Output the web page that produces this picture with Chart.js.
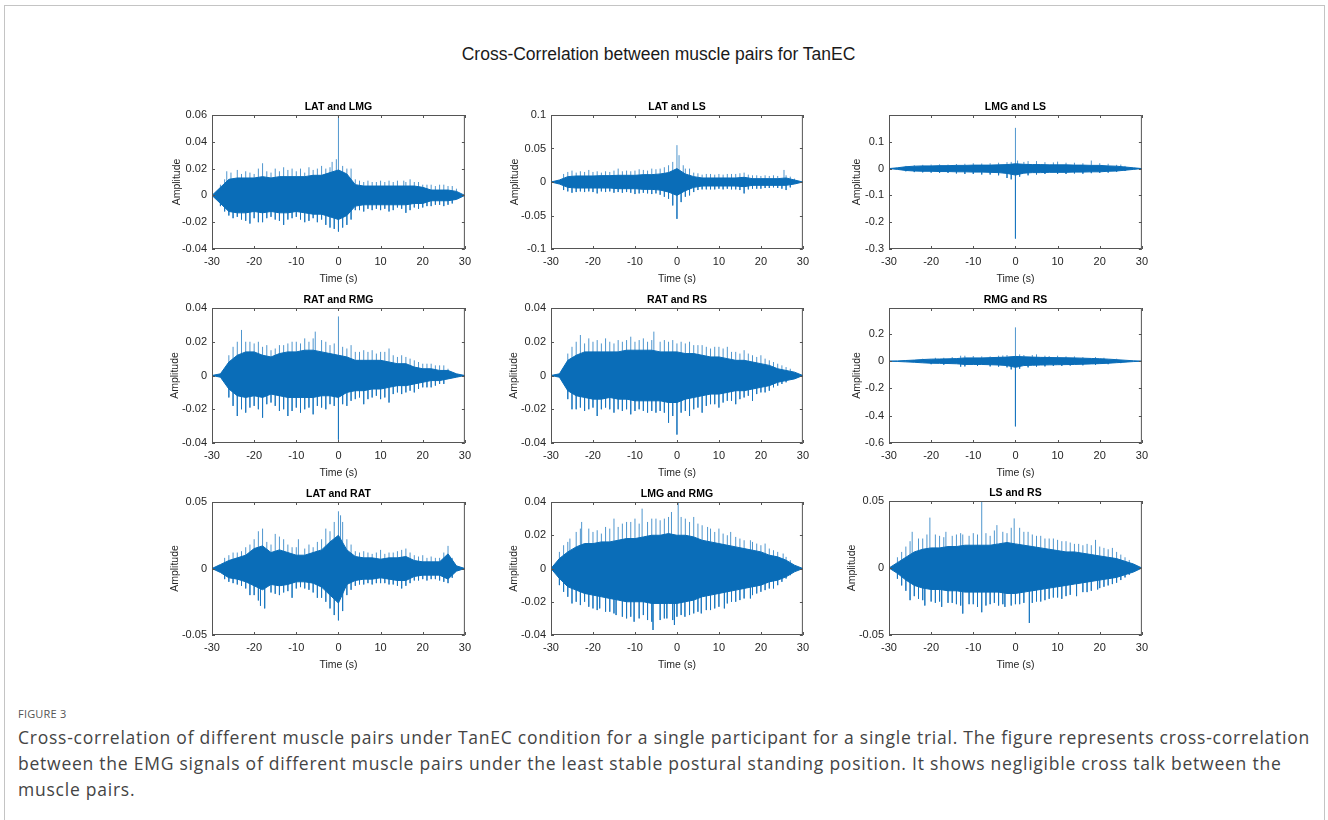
<!DOCTYPE html>
<html>
<head>
<meta charset="utf-8">
<script src="https://cdn.jsdelivr.net/npm/chart.js@4.4.1/dist/chart.umd.min.js"></script>
<style>
  html, body { margin: 0; padding: 0; background: #fff; }
  body { width: 1328px; height: 820px; position: relative; overflow: hidden; font-family: "Liberation Sans", Arial, sans-serif; }
  #border { position: absolute; left: 4px; top: 5px; width: 1319px; height: 900px; border: 1px solid #c4c4c4; }
  #maintitle { position: absolute; left: 0; width: 1317px; top: 43px; height: 22px; line-height: 22px; text-align: center; font-size: 17.5px; color: #1a1a1a; }
  canvas { position: absolute; }
  #figlabel { position: absolute; left: 18px; top: 706px; font-family: "Open Sans", sans-serif; font-size: 11px; color: #555; letter-spacing: 0.2px; }
  #caption { position: absolute; left: 18px; top: 724px; font-family: "Open Sans", sans-serif; font-size: 17.5px; line-height: 26px; color: #444; white-space: nowrap; }
  #caption .ln { display: block; }
  #caption .ln span { display: inline-block; }
</style>
</head>
<body>
<div id="border"></div>
<div id="maintitle">Cross-Correlation between muscle pairs for TanEC</div>
<canvas id="c1"></canvas><canvas id="c2"></canvas><canvas id="c3"></canvas>
<canvas id="c4"></canvas><canvas id="c5"></canvas><canvas id="c6"></canvas>
<canvas id="c7"></canvas><canvas id="c8"></canvas><canvas id="c9"></canvas>
<div id="figlabel">FIGURE 3</div>
<div id="caption">
  <div class="ln"><span id="firstline">Cross-correlation of different muscle pairs under TanEC condition for a single participant for a single trial. The figure represents cross-correlation</span></div>
  <div class="ln">between the EMG signals of different muscle pairs under the least stable postural standing position. It shows negligible cross talk between the</div>
  <div class="ln">muscle pairs.</div>
</div>
<script>
// lag times (s) at which the envelope of each cross-correlation was read
var lagTimes = [-30,-28,-26,-24,-22,-20,-18,-16,-14,-12,-10,-8,-6,-4,-2,0,2,4,6,8,10,12,14,16,18,20,22,24,26,28,30];
var timeTicks = [-30,-20,-10,0,10,20,30];

// LAT and LMG
var latLmgUp = [0,0.006,0.012,0.013,0.013,0.013,0.014,0.013,0.014,0.014,0.014,0.014,0.015,0.015,0.017,0.019,0.016,0.008,0.007,0.007,0.007,0.007,0.007,0.007,0.007,0.006,0.004,0.004,0.004,0.003,0];
var latLmgLow = [0,-0.006,-0.012,-0.013,-0.013,-0.012,-0.013,-0.012,-0.013,-0.013,-0.012,-0.013,-0.014,-0.014,-0.016,-0.018,-0.015,-0.008,-0.007,-0.007,-0.007,-0.007,-0.007,-0.007,-0.006,-0.006,-0.004,-0.004,-0.004,-0.003,0];
var latLmgSpikes = [[-28,0.008],[-27,0.012],[-26.5,0.018],[-25.5,0.017],[-24,0.019],[-23,0.016],[-22,0.018],[-21,0.017],[-20,0.016],[-19,0.02],[-18,0.024],[-17,0.018],[-16,0.017],[-15,0.02],[-14,0.018],[-13,0.021],[-12,0.019],[-11,0.02],[-10,0.018],[-9,0.02],[-8,0.017],[-7,0.021],[-6,0.019],[-5,0.02],[-4,0.022],[-3,0.02],[-2,0.021],[-1.5,0.025],[-0.5,0.027],[0,0.06],[1,0.022],[2,0.02],[3,0.02],[4,0.012],[5,0.011],[6,0.01],[7,0.011],[8,0.01],[9,0.01],[10,0.011],[11,0.01],[12,0.011],[13,0.01],[14,0.011],[15.5,0.011],[16,0.01],[17,0.012],[18,0.01],[19,0.01],[20,0.008],[21,0.008],[22,0.008],[23,0.007],[24,0.008],[25,0.008],[26,0.007],[27,0.007],[28,0.005],
  [-28,-0.008],[-27,-0.012],[-26,-0.015],[-25,-0.017],[-24,-0.016],[-23,-0.018],[-22,-0.019],[-21,-0.021],[-20,-0.017],[-19,-0.02],[-18,-0.02],[-17,-0.017],[-16,-0.016],[-15,-0.018],[-14,-0.019],[-13,-0.022],[-12,-0.018],[-11,-0.017],[-10,-0.016],[-9,-0.018],[-8,-0.02],[-7,-0.019],[-6,-0.017],[-5,-0.02],[-4,-0.018],[-3,-0.022],[-2,-0.024],[-1,-0.025],[0,-0.027],[1,-0.024],[2,-0.022],[3,-0.018],[4,-0.011],[5,-0.011],[6,-0.012],[7,-0.01],[8,-0.011],[9,-0.01],[10,-0.011],[11,-0.01],[12,-0.012],[13,-0.011],[14,-0.009],[15,-0.01],[16,-0.013],[17,-0.011],[18,-0.009],[19,-0.01],[20,-0.009],[21,-0.008],[22,-0.008],[23,-0.007],[24,-0.007],[25,-0.008],[26,-0.007],[27,-0.006]];
var latLmgTicks = [-0.04,-0.02,0,0.02,0.04,0.06];

// LAT and LS
var latLsUp = [0,0.003,0.008,0.009,0.009,0.009,0.0095,0.0095,0.01,0.01,0.01,0.011,0.011,0.012,0.014,0.02,0.012,0.008,0.006,0.006,0.006,0.006,0.006,0.007,0.005,0.005,0.005,0.005,0.006,0.003,0];
var latLsLow = [0,-0.003,-0.008,-0.009,-0.009,-0.009,-0.009,-0.009,-0.01,-0.01,-0.01,-0.011,-0.011,-0.012,-0.015,-0.02,-0.013,-0.008,-0.006,-0.006,-0.006,-0.006,-0.006,-0.007,-0.005,-0.005,-0.005,-0.005,-0.005,-0.003,0];
var latLsSpikes = [[-27,0.012],[-26,0.015],[-25,0.017],[-24,0.014],[-23,0.016],[-22,0.015],[-21,0.018],[-20,0.015],[-19,0.016],[-18,0.014],[-17,0.016],[-16,0.015],[-15,0.017],[-14,0.02],[-13,0.016],[-12,0.017],[-11,0.016],[-10,0.017],[-9,0.019],[-8,0.018],[-7,0.017],[-6,0.02],[-5,0.019],[-4,0.02],[-3,0.022],[-2,0.025],[-1,0.03],[0,0.055],[0.5,0.04],[1.5,0.025],[2,0.02],[3,0.02],[4,0.014],[5,0.013],[6,0.011],[7,0.012],[8,0.012],[9,0.011],[10,0.012],[11,0.011],[12,0.012],[13,0.012],[14,0.012],[15,0.013],[16,0.014],[17,0.011],[18,0.01],[19,0.01],[20,0.009],[21,0.01],[22,0.009],[23,0.01],[24,0.009],[25.5,0.018],[26,0.01],[27,0.008],[28,0.005],
  [-27,-0.012],[-26,-0.014],[-25,-0.016],[-24,-0.015],[-23,-0.014],[-22,-0.015],[-21,-0.014],[-20,-0.015],[-19,-0.017],[-18,-0.014],[-17,-0.015],[-16,-0.014],[-15,-0.016],[-14,-0.015],[-13,-0.016],[-12,-0.015],[-11,-0.016],[-10,-0.018],[-9,-0.017],[-8,-0.016],[-7,-0.017],[-6,-0.018],[-5,-0.017],[-4,-0.019],[-3,-0.022],[-2,-0.025],[-1,-0.035],[0,-0.055],[1,-0.03],[2,-0.022],[3,-0.02],[4,-0.015],[5,-0.012],[6,-0.011],[7,-0.011],[8,-0.011],[9,-0.011],[10,-0.01],[11,-0.011],[12,-0.01],[13,-0.011],[14,-0.011],[15,-0.012],[16,-0.017],[17,-0.011],[18,-0.01],[19,-0.01],[20,-0.01],[21,-0.009],[22,-0.009],[23,-0.008],[24,-0.009],[25,-0.01],[26,-0.012],[27,-0.008]];
var latLsTicks = [-0.1,-0.05,0,0.05,0.1];

// LMG and LS
var lmgLsUp = [0,0.003,0.007,0.009,0.01,0.01,0.011,0.011,0.012,0.012,0.013,0.013,0.013,0.014,0.015,0.018,0.016,0.015,0.015,0.014,0.014,0.014,0.013,0.013,0.012,0.012,0.01,0.009,0.006,0.003,0];
var lmgLsLow = [0,-0.003,-0.007,-0.009,-0.01,-0.01,-0.011,-0.011,-0.012,-0.012,-0.013,-0.013,-0.014,-0.015,-0.018,-0.024,-0.017,-0.015,-0.015,-0.014,-0.014,-0.014,-0.013,-0.013,-0.012,-0.012,-0.01,-0.009,-0.006,-0.003,0];
var lmgLsSpikes = [[-26,0.01],[-24,0.013],[-22,0.014],[-20,0.015],[-18,0.016],[-16,0.015],[-14,0.017],[-12,0.018],[-10,0.02],[-8,0.019],[-6,0.02],[-4,0.022],[-2,0.024],[-1,0.025],[0,0.152],[0.5,0.03],[2,0.025],[3,0.028],[5,0.028],[7,0.024],[9,0.023],[10,0.026],[12,0.022],[14,0.022],[16,0.02],[18,0.03],[20,0.02],[22,0.018],[24,0.014],[25,0.015],[26,0.01],
  [-26,-0.01],[-24,-0.013],[-22,-0.014],[-20,-0.015],[-18,-0.016],[-16,-0.016],[-14,-0.018],[-12,-0.02],[-10,-0.02],[-8,-0.022],[-6,-0.022],[-4,-0.025],[-2,-0.035],[-1,-0.04],[0,-0.261],[1,-0.03],[3,-0.025],[5,-0.022],[7,-0.02],[10,-0.02],[12,-0.02],[14,-0.018],[16,-0.019],[18,-0.017],[20,-0.016],[22,-0.015],[24,-0.012],[26,-0.009]];
var lmgLsTicks = [-0.3,-0.2,-0.1,0,0.1];

// RAT and RMG
var ratRmgUp = [0,0.001,0.008,0.012,0.014,0.014,0.012,0.011,0.013,0.014,0.014,0.015,0.015,0.014,0.013,0.012,0.011,0.009,0.009,0.009,0.009,0.008,0.007,0.007,0.005,0.004,0.004,0.003,0.003,0.001,0];
var ratRmgLow = [0,-0.001,-0.008,-0.012,-0.013,-0.012,-0.013,-0.011,-0.012,-0.013,-0.013,-0.013,-0.013,-0.012,-0.012,-0.013,-0.01,-0.009,-0.009,-0.008,-0.008,-0.007,-0.006,-0.006,-0.005,-0.004,-0.003,-0.003,-0.002,-0.001,0];
var ratRmgSpikes = [[-26,0.012],[-25,0.017],[-24,0.02],[-23,0.027],[-22,0.02],[-21,0.02],[-20,0.019],[-19,0.02],[-18,0.017],[-17,0.018],[-16,0.015],[-15,0.016],[-14,0.018],[-13,0.018],[-12,0.019],[-11,0.02],[-10,0.02],[-9,0.019],[-8,0.022],[-7,0.02],[-6,0.022],[-5.5,0.026],[-4,0.021],[-3,0.02],[-2,0.018],[-1,0.019],[0,0.035],[1,0.017],[2,0.016],[3,0.018],[4,0.014],[5,0.014],[6,0.015],[7,0.014],[8,0.015],[9,0.013],[10,0.014],[11,0.014],[12,0.016],[13,0.012],[14,0.011],[15,0.012],[16,0.011],[17,0.01],[18,0.009],[19,0.008],[20,0.007],[21,0.007],[22,0.007],[23,0.006],[24,0.006],[25,0.006],[26,0.004],
  [-26,-0.013],[-25,-0.018],[-24,-0.024],[-23,-0.02],[-22,-0.022],[-21,-0.019],[-20,-0.018],[-19,-0.02],[-18,-0.025],[-17,-0.017],[-16,-0.016],[-15,-0.018],[-14,-0.021],[-13,-0.02],[-12,-0.024],[-11,-0.021],[-10,-0.019],[-9,-0.022],[-8,-0.02],[-7,-0.019],[-6,-0.023],[-5,-0.018],[-4,-0.019],[-3,-0.02],[-2,-0.017],[-1,-0.018],[0,-0.038],[1,-0.017],[2,-0.018],[3,-0.015],[4,-0.014],[5,-0.013],[6,-0.017],[7,-0.014],[8,-0.013],[9,-0.012],[10,-0.014],[11,-0.013],[12,-0.016],[13,-0.011],[14,-0.01],[15,-0.011],[16,-0.01],[17,-0.009],[18,-0.01],[19,-0.008],[20,-0.007],[21,-0.007],[22,-0.007],[23,-0.006],[24,-0.005],[25,-0.005]];
var ratRmgTicks = [-0.04,-0.02,0,0.02,0.04];

// RAT and RS
var ratRsUp = [0,0.001,0.009,0.012,0.014,0.014,0.014,0.014,0.014,0.015,0.015,0.015,0.015,0.014,0.014,0.014,0.013,0.013,0.012,0.011,0.011,0.01,0.009,0.009,0.008,0.007,0.006,0.004,0.003,0.002,0];
var ratRsLow = [0,-0.001,-0.009,-0.012,-0.013,-0.014,-0.014,-0.013,-0.014,-0.014,-0.015,-0.015,-0.015,-0.015,-0.016,-0.016,-0.014,-0.013,-0.012,-0.011,-0.011,-0.01,-0.009,-0.009,-0.008,-0.007,-0.006,-0.004,-0.003,-0.002,0];
var ratRsSpikes = [[-26,0.013],[-25,0.017],[-24,0.02],[-23,0.024],[-22,0.019],[-21,0.022],[-20,0.02],[-19,0.021],[-18,0.019],[-17,0.022],[-16,0.02],[-15,0.019],[-14,0.021],[-13,0.02],[-12,0.021],[-11,0.023],[-10,0.02],[-9,0.021],[-8,0.022],[-7,0.02],[-6,0.021],[-5.5,0.026],[-4,0.02],[-3,0.021],[-2,0.02],[-1,0.021],[0,0.019],[1,0.02],[2,0.019],[3,0.02],[4,0.018],[5,0.018],[6,0.018],[7,0.017],[8,0.016],[9,0.017],[10,0.017],[11,0.016],[12,0.017],[13,0.014],[14,0.014],[15,0.013],[16,0.015],[17,0.013],[18,0.012],[19,0.011],[20,0.012],[21,0.01],[22,0.009],[23,0.008],[24,0.007],[25,0.006],[26,0.005],[27,0.004],
  [-26,-0.014],[-25,-0.02],[-24,-0.02],[-23,-0.019],[-22,-0.021],[-21,-0.02],[-20,-0.019],[-19,-0.024],[-18,-0.02],[-17,-0.019],[-16,-0.02],[-15,-0.022],[-14,-0.02],[-13,-0.021],[-12,-0.02],[-11,-0.023],[-10,-0.021],[-9,-0.02],[-8,-0.021],[-7,-0.022],[-6,-0.021],[-5,-0.022],[-4,-0.021],[-3,-0.022],[-2,-0.028],[-1,-0.024],[0,-0.035],[1,-0.022],[2,-0.021],[3,-0.024],[4,-0.02],[5,-0.019],[6,-0.022],[7,-0.018],[8,-0.017],[9,-0.017],[10,-0.019],[11,-0.016],[12,-0.015],[13,-0.015],[14,-0.017],[15,-0.014],[16,-0.013],[17,-0.012],[18,-0.015],[19,-0.011],[20,-0.01],[21,-0.01],[22,-0.009],[23,-0.007],[24,-0.006],[25,-0.005],[26,-0.004]];
var ratRsTicks = [-0.04,-0.02,0,0.02,0.04];

// RMG and RS
var rmgRsUp = [0,0.002,0.005,0.008,0.012,0.015,0.016,0.017,0.019,0.024,0.024,0.024,0.026,0.028,0.03,0.035,0.032,0.03,0.028,0.027,0.026,0.025,0.024,0.022,0.02,0.018,0.015,0.011,0.007,0.003,0];
var rmgRsLow = [0,-0.002,-0.005,-0.008,-0.012,-0.015,-0.016,-0.017,-0.019,-0.024,-0.024,-0.024,-0.026,-0.028,-0.032,-0.045,-0.032,-0.03,-0.028,-0.027,-0.026,-0.025,-0.024,-0.022,-0.02,-0.018,-0.015,-0.011,-0.007,-0.003,0];
var rmgRsSpikes = [[-22,0.018],[-19,0.025],[-17,0.025],[-15,0.03],[-13,0.04],[-12,0.04],[-10,0.038],[-8,0.035],[-6,0.035],[-4,0.04],[-3,0.042],[-2,0.045],[0,0.248],[1,0.05],[2,0.045],[4,0.045],[5,0.05],[7,0.04],[8,0.038],[10,0.04],[12,0.035],[14,0.035],[16,0.03],[19,0.03],[21,0.025],[24,0.018],
  [-20,-0.022],[-17,-0.026],[-13,-0.04],[-12,-0.038],[-9,-0.035],[-6,-0.038],[-4,-0.04],[-2,-0.045],[-1,-0.06],[0,-0.478],[1,-0.055],[3,-0.045],[5,-0.04],[7,-0.038],[9,-0.035],[11,-0.035],[13,-0.032],[16,-0.03],[19,-0.027],[22,-0.022],[25,-0.014]];
var rmgRsTicks = [-0.6,-0.4,-0.2,0,0.2];

// LAT and RAT
var latRatUp = [0,0.003,0.006,0.008,0.01,0.015,0.017,0.012,0.014,0.012,0.01,0.01,0.012,0.014,0.02,0.025,0.014,0.009,0.008,0.008,0.007,0.008,0.008,0.009,0.006,0.005,0.005,0.005,0.011,0.002,0];
var latRatLow = [0,-0.003,-0.007,-0.008,-0.01,-0.013,-0.016,-0.012,-0.013,-0.012,-0.01,-0.01,-0.011,-0.014,-0.02,-0.026,-0.012,-0.009,-0.008,-0.008,-0.007,-0.008,-0.009,-0.009,-0.006,-0.005,-0.005,-0.005,-0.008,-0.002,0];
var latRatSpikes = [[-27,0.008],[-26,0.01],[-25,0.012],[-24,0.012],[-23,0.013],[-22,0.016],[-21,0.018],[-20,0.022],[-19,0.028],[-18,0.03],[-17,0.02],[-16,0.018],[-15,0.026],[-14,0.024],[-13,0.022],[-12,0.018],[-11,0.016],[-10,0.016],[-9.5,0.022],[-8,0.015],[-7,0.018],[-6,0.016],[-5,0.02],[-4,0.022],[-3,0.03],[-2,0.028],[-1,0.035],[0,0.043],[0.5,0.04],[1,0.035],[2,0.022],[3,0.018],[4,0.013],[5,0.012],[6,0.013],[7,0.012],[8,0.011],[9,0.012],[10,0.014],[11,0.011],[12,0.012],[13,0.012],[14,0.013],[15,0.014],[16,0.015],[17,0.012],[18,0.01],[19,0.009],[20,0.01],[21,0.008],[22,0.009],[23,0.008],[24,0.008],[25,0.012],[26,0.017],[27,0.008],
  [-27,-0.008],[-26,-0.01],[-25,-0.011],[-24,-0.012],[-23,-0.013],[-22,-0.015],[-21,-0.02],[-20,-0.02],[-19,-0.024],[-18.5,-0.028],[-17.5,-0.03],[-16,-0.018],[-15,-0.019],[-14,-0.02],[-13,-0.018],[-12,-0.017],[-11,-0.022],[-10,-0.015],[-9,-0.014],[-8,-0.015],[-7,-0.016],[-6,-0.018],[-5,-0.022],[-4,-0.022],[-3,-0.025],[-2,-0.03],[-1,-0.035],[0,-0.039],[1,-0.032],[2,-0.02],[3,-0.016],[4,-0.013],[5,-0.012],[6,-0.012],[7,-0.011],[8,-0.012],[9,-0.011],[10,-0.011],[11,-0.011],[12,-0.012],[13,-0.012],[14,-0.013],[15,-0.015],[16,-0.013],[17,-0.011],[18,-0.009],[19,-0.009],[20,-0.008],[21,-0.009],[22,-0.008],[23,-0.008],[24,-0.009],[25,-0.01],[26,-0.011],[27,-0.007]];
var latRatTicks = [-0.05,0,0.05];

// LMG and RMG
var lmgRmgUp = [0,0.006,0.01,0.013,0.015,0.015,0.016,0.016,0.017,0.018,0.018,0.019,0.02,0.02,0.021,0.02,0.02,0.019,0.017,0.016,0.015,0.014,0.013,0.012,0.011,0.01,0.008,0.007,0.005,0.002,0];
var lmgRmgLow = [0,-0.006,-0.011,-0.013,-0.015,-0.016,-0.017,-0.018,-0.019,-0.02,-0.02,-0.02,-0.021,-0.021,-0.021,-0.021,-0.02,-0.019,-0.017,-0.016,-0.015,-0.014,-0.013,-0.012,-0.011,-0.01,-0.008,-0.007,-0.005,-0.002,0];
var lmgRmgSpikes = [[-28,0.01],[-27,0.014],[-26,0.016],[-25.5,0.018],[-24,0.022],[-23,0.024],[-22.7,0.028],[-21,0.024],[-20,0.022],[-19,0.023],[-18,0.021],[-17,0.025],[-16,0.024],[-15,0.03],[-14,0.025],[-13,0.027],[-12,0.028],[-11,0.028],[-10,0.03],[-9,0.027],[-8.3,0.036],[-7,0.028],[-6,0.03],[-5,0.03],[-4,0.029],[-3,0.03],[-2,0.031],[-1.3,0.034],[0.3,0.04],[1,0.031],[2,0.03],[3,0.028],[4,0.031],[5,0.027],[6,0.026],[7.3,0.025],[8,0.024],[9,0.022],[10,0.024],[11,0.021],[12,0.02],[12.8,0.022],[14,0.019],[15,0.018],[16,0.017],[17.5,0.017],[18,0.016],[19,0.015],[20,0.014],[21,0.015],[22,0.012],[23,0.011],[24,0.01],[25.3,0.009],[26,0.007],[27,0.005],
  [-28,-0.01],[-27,-0.014],[-26,-0.017],[-25,-0.021],[-24,-0.02],[-23,-0.022],[-22,-0.02],[-21,-0.023],[-20,-0.024],[-19,-0.025],[-18.4,-0.024],[-17,-0.026],[-16,-0.026],[-15,-0.027],[-14.5,-0.028],[-13,-0.029],[-12,-0.03],[-11,-0.029],[-10.2,-0.032],[-9,-0.03],[-8,-0.028],[-7,-0.031],[-6,-0.032],[-5.7,-0.037],[-4,-0.031],[-3,-0.03],[-2.4,-0.03],[-1,-0.031],[-0.6,-0.034],[0,-0.029],[1,-0.028],[1.9,-0.029],[3,-0.028],[4,-0.027],[5,-0.026],[5.8,-0.027],[7,-0.025],[8,-0.025],[9,-0.024],[10,-0.023],[11.3,-0.024],[12,-0.021],[13,-0.02],[14,-0.02],[15,-0.019],[16,-0.018],[17.5,-0.018],[18,-0.016],[19,-0.015],[20,-0.014],[21,-0.013],[22,-0.012],[23,-0.012],[24,-0.01],[25,-0.008],[26,-0.006],[27,-0.004]];
var lmgRmgTicks = [-0.04,-0.02,0,0.02,0.04];

// LS and RS
var lsRsUp = [0,0.004,0.008,0.012,0.014,0.015,0.015,0.016,0.016,0.017,0.017,0.017,0.017,0.018,0.019,0.018,0.017,0.016,0.015,0.014,0.013,0.012,0.012,0.011,0.01,0.009,0.008,0.007,0.005,0.003,0];
var lsRsLow = [0,-0.004,-0.009,-0.013,-0.015,-0.016,-0.016,-0.017,-0.017,-0.018,-0.018,-0.018,-0.018,-0.018,-0.019,-0.019,-0.018,-0.017,-0.016,-0.015,-0.014,-0.013,-0.012,-0.011,-0.01,-0.009,-0.008,-0.007,-0.005,-0.003,0];
var lsRsSpikes = [[-28,0.008],[-27,0.012],[-26,0.016],[-25,0.02],[-24.5,0.027],[-23,0.022],[-22,0.022],[-21,0.025],[-20.3,0.0376],[-19,0.025],[-18,0.024],[-17,0.023],[-16.5,0.027],[-15,0.024],[-14,0.025],[-13,0.026],[-12.5,0.025],[-11,0.024],[-10,0.026],[-9,0.025],[-8,0.05],[-7,0.026],[-6,0.024],[-5,0.028],[-4.4,0.032],[-3,0.027],[-2,0.026],[-1,0.03],[-0.3,0.037],[1,0.03],[2,0.027],[3,0.027],[4,0.025],[5,0.024],[6,0.024],[7,0.022],[8,0.022],[9,0.022],[10,0.021],[11,0.02],[12,0.02],[13,0.019],[14,0.018],[15,0.018],[16,0.017],[17,0.018],[18,0.017],[19,0.021],[20,0.016],[21,0.015],[22,0.014],[23,0.015],[24,0.012],[25,0.01],[26,0.008],[27,0.006],
  [-28,-0.008],[-27,-0.013],[-26,-0.017],[-25,-0.024],[-24,-0.021],[-23,-0.023],[-22,-0.024],[-21.5,-0.028],[-20,-0.025],[-19,-0.026],[-18,-0.025],[-17.5,-0.029],[-16,-0.026],[-15,-0.026],[-14,-0.027],[-13,-0.028],[-12.5,-0.034],[-11,-0.027],[-10,-0.027],[-9,-0.029],[-8,-0.033],[-7,-0.028],[-6,-0.027],[-5,-0.026],[-4,-0.028],[-3,-0.027],[-2.5,-0.029],[-1,-0.028],[0,-0.027],[1,-0.027],[2,-0.026],[3.3,-0.041],[4,-0.026],[5,-0.025],[6,-0.025],[7,-0.024],[8,-0.023],[9,-0.022],[10,-0.022],[11,-0.023],[12,-0.021],[13,-0.02],[14.5,-0.021],[16,-0.018],[17,-0.018],[18,-0.017],[19.5,-0.016],[20,-0.015],[21,-0.014],[22,-0.013],[23,-0.012],[24,-0.011],[25,-0.009],[26,-0.007],[27,-0.005]];
var lsRsTicks = [-0.05,0,0.05];

// panel layout: plot box in page pixels, axis limits and ylabel offset
var panels = [
  {id: "c1", title: "LAT and LMG", up: latLmgUp, low: latLmgLow, spikes: latLmgSpikes, ticks: latLmgTicks, ymin: -0.04, ymax: 0.06, box: [212, 115, 257, 134], yl: 35},
  {id: "c2", title: "LAT and LS", up: latLsUp, low: latLsLow, spikes: latLsSpikes, ticks: latLsTicks, ymin: -0.1, ymax: 0.1, box: [551, 115, 256, 134], yl: 36},
  {id: "c3", title: "LMG and LS", up: lmgLsUp, low: lmgLsLow, spikes: lmgLsSpikes, ticks: lmgLsTicks, ymin: -0.3, ymax: 0.2, box: [889, 115, 257, 134], yl: 32},
  {id: "c4", title: "RAT and RMG", up: ratRmgUp, low: ratRmgLow, spikes: ratRmgSpikes, ticks: ratRmgTicks, ymin: -0.04, ymax: 0.04, box: [212, 308, 257, 135], yl: 37},
  {id: "c5", title: "RAT and RS", up: ratRsUp, low: ratRsLow, spikes: ratRsSpikes, ticks: ratRsTicks, ymin: -0.04, ymax: 0.04, box: [551, 308, 256, 135], yl: 37},
  {id: "c6", title: "RMG and RS", up: rmgRsUp, low: rmgRsLow, spikes: rmgRsSpikes, ticks: rmgRsTicks, ymin: -0.6, ymax: 0.39, box: [889, 308, 257, 135], yl: 32},
  {id: "c7", title: "LAT and RAT", up: latRatUp, low: latRatLow, spikes: latRatSpikes, ticks: latRatTicks, ymin: -0.05, ymax: 0.05, box: [212, 502, 257, 133], yl: 37},
  {id: "c8", title: "LMG and RMG", up: lmgRmgUp, low: lmgRmgLow, spikes: lmgRmgSpikes, ticks: lmgRmgTicks, ymin: -0.04, ymax: 0.04, box: [551, 502, 256, 133], yl: 37},
  {id: "c9", title: "LS and RS", up: lsRsUp, low: lsRsLow, spikes: lsRsSpikes, ticks: lsRsTicks, ymin: -0.05, ymax: 0.05, box: [889, 501, 257, 134], yl: 37}
];

var blue = "#0a6db8";
var spikeBlue = "rgba(20,115,190,0.75)";
var axisColor = "#555555";
var padL = 60, padT = 24, padR = 8, padB = 44;

// stretch the caption so its first line spans the same width as in the figure
(function () {
  var first = document.getElementById("firstline");
  var txt = first.textContent;
  var extra = (1292 - first.getBoundingClientRect().width) / txt.length;
  document.getElementById("caption").style.letterSpacing = extra.toFixed(3) + "px";
})();

Chart.defaults.font.family = '"Liberation Sans", Arial, sans-serif';
Chart.defaults.color = "#262626";

// matlab style box, inward ticks and labels
var matlabFrame = {
  id: "matlabFrame",
  afterDatasetsDraw: function (chart, args, opts) {
    var ctx = chart.ctx, a = chart.chartArea;
    var xs = chart.scales.x, ys = chart.scales.y;
    ctx.save();
    ctx.strokeStyle = axisColor;
    ctx.lineWidth = 1;
    ctx.strokeRect(a.left + 0.5, a.top + 0.5, a.right - a.left - 1, a.bottom - a.top - 1);
    ctx.beginPath();
    timeTicks.forEach(function (t) {
      var px = Math.round(xs.getPixelForValue(t)) + 0.5;
      ctx.moveTo(px, a.bottom); ctx.lineTo(px, a.bottom - 3);
      ctx.moveTo(px, a.top); ctx.lineTo(px, a.top + 3);
    });
    opts.ticks.forEach(function (v) {
      var py = Math.round(ys.getPixelForValue(v)) + 0.5;
      ctx.moveTo(a.left, py); ctx.lineTo(a.left + 3, py);
      ctx.moveTo(a.right, py); ctx.lineTo(a.right - 3, py);
    });
    ctx.stroke();

    var cx = (a.left + a.right) / 2;
    ctx.fillStyle = "#000";
    ctx.textAlign = "center";
    ctx.textBaseline = "middle";
    ctx.font = 'bold 10.5px "Liberation Sans", Arial, sans-serif';
    ctx.fillText(opts.title, cx, a.top - 8);
    ctx.fillStyle = "#262626";
    ctx.font = '10.5px "Liberation Sans", Arial, sans-serif';
    ctx.fillText("Time (s)", cx, a.bottom + 30);
    ctx.translate(a.left - opts.yl, (a.top + a.bottom) / 2);
    ctx.rotate(-Math.PI / 2);
    ctx.fillText("Amplitude", 0, 0);
    ctx.restore();
  }
};

function fmt(v) {
  var s = String(+v.toFixed(4));
  return s === "-0" ? "0" : s;
}

panels.forEach(function (p) {
  var cv = document.getElementById(p.id);
  var b = p.box;
  cv.width = b[2] + padL + padR;
  cv.height = b[3] + padT + padB;
  cv.style.left = (b[0] - padL) + "px";
  cv.style.top = (b[1] - padT) + "px";

  var upper = lagTimes.map(function (t, i) { return {x: t, y: p.up[i]}; });
  var lower = lagTimes.map(function (t, i) { return {x: t, y: p.low[i]}; });
  var spikeLines = [];
  p.spikes.forEach(function (s) {
    spikeLines.push({x: s[0], y: 0}, {x: s[0], y: s[1]}, {x: s[0], y: null});
  });

  new Chart(cv, {
    type: "line",
    data: {
      datasets: [
        {data: upper, borderColor: blue, backgroundColor: blue, borderWidth: 1, pointRadius: 0, fill: "+1", tension: 0},
        {data: lower, borderColor: blue, backgroundColor: blue, borderWidth: 1, pointRadius: 0, fill: false, tension: 0},
        {data: spikeLines, borderColor: spikeBlue, borderWidth: 1, pointRadius: 0, fill: false, spanGaps: false}
      ]
    },
    options: {
      responsive: false,
      animation: false,
      events: [],
      layout: {padding: {left: 0, top: padT, right: padR, bottom: 0}},
      plugins: {
        legend: {display: false},
        tooltip: {enabled: false},
        matlabFrame: {title: p.title, ticks: p.ticks, yl: p.yl}
      },
      scales: {
        x: {
          type: "linear",
          min: -30,
          max: 30,
          grid: {display: false, drawTicks: false},
          border: {display: false},
          ticks: {padding: 6, font: {size: 11}, color: "#262626", maxRotation: 0, callback: function (v) { return fmt(v); }},
          afterBuildTicks: function (s) { s.ticks = timeTicks.map(function (v) { return {value: v}; }); },
          afterFit: function (s) { s.height = padB; }
        },
        y: {
          min: p.ymin,
          max: p.ymax,
          grid: {display: false, drawTicks: false},
          border: {display: false},
          ticks: {padding: 5, font: {size: 11}, color: "#262626", callback: function (v) { return fmt(v); }},
          afterBuildTicks: function (s) { s.ticks = p.ticks.map(function (v) { return {value: v}; }); },
          afterFit: function (s) { s.width = padL; }
        }
      }
    },
    plugins: [matlabFrame]
  });
});
</script>
</body>
</html>
